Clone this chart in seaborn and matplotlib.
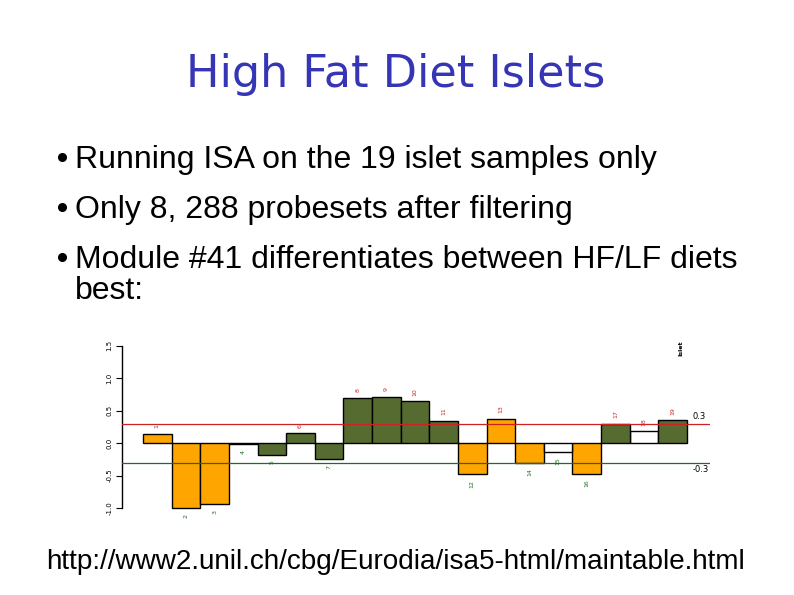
import numpy as np
import pandas as pd
import matplotlib
matplotlib.use("Agg")
import matplotlib.pyplot as plt
from matplotlib.lines import Line2D
import seaborn as sns

# module #41 sample scores
samples = [str(i) for i in range(1, 20)]
scores = [0.14, -1.00, -0.94, -0.02, -0.18, 0.15, -0.25, 0.70, 0.71, 0.64,
          0.34, -0.48, 0.37, -0.30, -0.14, -0.47, 0.30, 0.18, 0.35]
diet = ["HF", "HF", "HF", "other", "LF", "LF", "LF", "LF", "LF", "LF",
        "LF", "HF", "HF", "HF", "other", "HF", "LF", "other", "LF"]
y_ticks = [1.5, 1.0, 0.5, 0.0, -0.5, -1.0]
thresholds = [0.3, -0.3]

title = "High Fat Diet Islets"
bullets = ["Running ISA on the 19 islet samples only",
           "Only 8, 288 probesets after filtering",
           "Module #41 differentiates between HF/LF diets"]
url = "http://www2.unil.ch/cbg/Eurodia/isa5-html/maintable.html"

df = pd.DataFrame({"sample": samples, "score": scores, "diet": diet})
palette = {"HF": "#FFA500", "LF": "#556B2F", "other": "#FFFFFF"}

W, H = 794, 595
fig = plt.figure(figsize=(W / 100, H / 100), dpi=100)
fig.patch.set_facecolor("white")

# slide text
fig.text(396 / W, 1 - 87 / H, title, ha="center", va="baseline",
         fontsize=32, color="#3535B5", family="DejaVu Sans")
for line, yb in zip(bullets, [168, 218, 268]):
    fig.add_artist(Line2D([62 / W], [1 - (yb - 11) / H], marker="o",
                          markersize=5.5, color="black",
                          transform=fig.transFigure))
    fig.text(75 / W, 1 - yb / H, line, ha="left", va="baseline",
             fontsize=23, color="black", family="Liberation Sans")
fig.text(75 / W, 1 - 299 / H, "best:", ha="left", va="baseline",
         fontsize=23, color="black", family="Liberation Sans")
fig.text(396 / W, 1 - 569 / H, url, ha="center", va="baseline",
         fontsize=20.1, color="black", family="Liberation Sans")

# bar chart axes: zero at y=443px, 65 px per unit; bars 143..687 px
y0, ppu = 443, 65
ylo, yhi = -1.25, 1.55
bw = (687 - 143) / 19
xlo = -0.5 - (143 - 122) / bw
xhi = -0.5 + (710 - 143) / bw
ax = fig.add_axes([122 / W, 1 - (y0 - ylo * ppu) / H,
                   (710 - 122) / W, (yhi - ylo) * ppu / H])

sns.barplot(data=df, x="sample", y="score", hue="diet", palette=palette,
            dodge=False, width=1.0, saturation=1, edgecolor="black",
            linewidth=1.0, legend=False, ax=ax, zorder=2)

ax.set_xlim(xlo, xhi)
ax.set_ylim(ylo, yhi)
for t, c in zip(thresholds, ["#CC2222", "#1E6E1E"]):
    ax.axhline(t, color=c, lw=0.9, zorder=3)

for sp in ["top", "right", "bottom"]:
    ax.spines[sp].set_visible(False)
ax.spines["left"].set_bounds(-1.0, 1.5)
ax.spines["left"].set_linewidth(1.0)
ax.set_xticks([])
ax.set_yticks(y_ticks)
ax.set_yticklabels([f"{v:.1f}" for v in y_ticks], rotation=90,
                   va="center", fontsize=5)
ax.tick_params(axis="y", length=4, width=0.8, pad=3)
ax.set_xlabel("")
ax.set_ylabel("")
ax.set_facecolor("none")

# sample labels above / below each bar
for i, (s, v) in enumerate(zip(samples, scores)):
    if v >= 0:
        ax.annotate(s, (i, v), xytext=(0, 4), textcoords="offset points",
                    ha="center", va="bottom", rotation=90, fontsize=4.5,
                    color="#CC2222", annotation_clip=False)
    else:
        ax.annotate(s, (i, v), xytext=(0, -4), textcoords="offset points",
                    ha="center", va="top", rotation=90, fontsize=4.5,
                    color="#1E6E1E", annotation_clip=False)

ax.text(18.7, 0.3 + 0.04, "0.3", fontsize=6, ha="left", va="bottom")
ax.text(18.7, -0.3 - 0.04, "-0.3", fontsize=6, ha="left", va="top")
ax.text(18.3, 1.45, "Islet", fontsize=4.5, fontweight="bold",
        rotation=90, ha="center", va="center")

fig.savefig("out.png", dpi=100, facecolor="white")
